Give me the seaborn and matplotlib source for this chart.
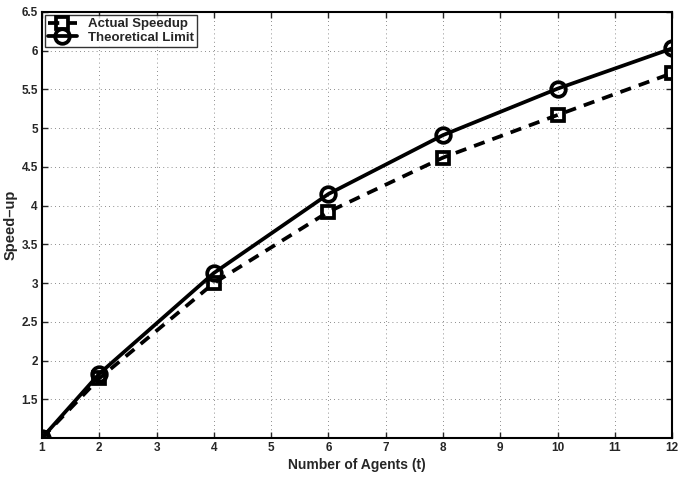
import matplotlib
matplotlib.use("Agg")
import matplotlib.pyplot as plt
import seaborn as sns
import pandas as pd

agents = [1, 2, 4, 6, 8, 10, 12]
actual_speedup = [1.0, 1.77, 3.0, 3.92, 4.62, 5.17, 5.71]
theoretical_limit = [1.0, 1.83, 3.13, 4.15, 4.91, 5.51, 6.03]
x_ticks = list(range(1, 13))
y_ticks = [1.5, 2, 2.5, 3, 3.5, 4, 4.5, 5, 5.5, 6, 6.5]
y_tick_labels = ["1.5", "2", "2.5", "3", "3.5", "4", "4.5", "5", "5.5", "6", "6.5"]

sns.set_style("ticks")
plt.rcParams['font.family'] = ['Liberation Sans', 'DejaVu Sans']
plt.rcParams['font.weight'] = 'bold'

fig = plt.figure(figsize=(6.83, 4.8), dpi=100)
ax = fig.add_axes([0.0615, 0.0875, 0.9225, 0.8875])

df_a = pd.DataFrame({"t": agents, "s": actual_speedup})
df_t = pd.DataFrame({"t": agents, "s": theoretical_limit})

sns.lineplot(data=df_a, x="t", y="s", ax=ax, color="black", linewidth=2.7,
             marker="s", markersize=8, markeredgewidth=2.7, fillstyle="none",
             markeredgecolor="black", label="Actual Speedup")
ax.lines[-1].set_dashes((3, 2.2))
sns.lineplot(data=df_t, x="t", y="s", ax=ax, color="black", linewidth=2.7,
             marker="o", markersize=10.5, markeredgewidth=2.7, fillstyle="none",
             markeredgecolor="black", label="Theoretical Limit")

ax.set_xlim(1, 12)
ax.set_ylim(1, 6.5)
ax.set_xticks(x_ticks)
ax.set_xticklabels([str(v) for v in x_ticks], fontsize=8.5, fontweight="bold")
ax.set_yticks(y_ticks)
ax.set_yticklabels(y_tick_labels, fontsize=8.5, fontweight="bold")
ax.tick_params(direction="in", length=4, width=1, top=True, right=True, pad=3)
ax.grid(True, linestyle=(0, (1, 4)), color="black", linewidth=0.6, alpha=0.6)

for sp in ax.spines.values():
    sp.set_linewidth(1.5)
    sp.set_color("black")

ax.set_xlabel("Number of Agents (t)", fontsize=10, fontweight="bold", labelpad=3)
ax.set_ylabel("Speed\u2013up", fontsize=10.5, fontweight="bold", labelpad=3)

leg = ax.legend(loc="upper left", fontsize=9.5, frameon=True, fancybox=False,
                handlelength=2.2, borderpad=0.25, labelspacing=0.1,
                handletextpad=0.8, borderaxespad=0.2)
leg.get_frame().set_edgecolor("black")
leg.get_frame().set_linewidth(1.0)
for txt in leg.get_texts():
    txt.set_fontweight("bold")

fig.savefig("out.png", dpi=100)
